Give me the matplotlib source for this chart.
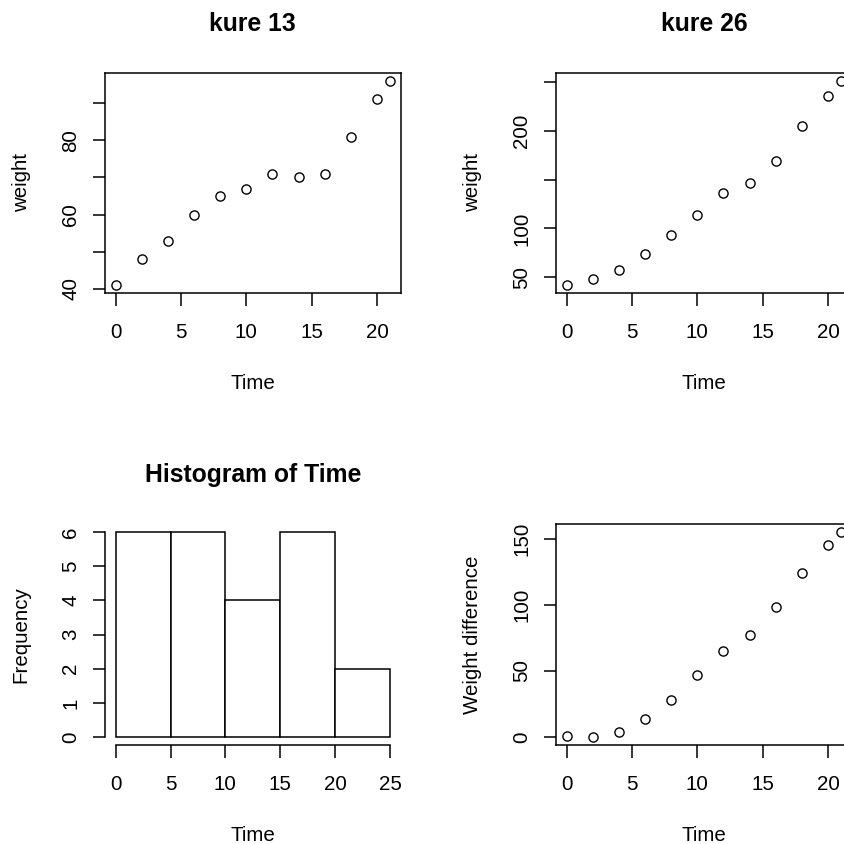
import matplotlib
matplotlib.use("Agg")
import matplotlib.pyplot as plt

plt.rcParams['font.family'] = ['Liberation Sans', 'DejaVu Sans']

time = [0, 2, 4, 6, 8, 10, 12, 14, 16, 18, 20, 21]
kure13 = [41, 48, 53, 60, 65, 67, 71, 70, 71, 81, 91, 96]
kure26 = [42, 48, 57, 74, 93, 114, 136, 147, 169, 205, 236, 251]
weight_diff = [1, 0, 4, 14, 28, 47, 65, 77, 98, 124, 145, 155]

hist_breaks = [0, 5, 10, 15, 20, 25]
hist_counts = [6, 6, 4, 6, 2]

x_ticks = [0, 5, 10, 15, 20]
k13_yticks = [40, 50, 60, 70, 80, 90]
k13_ylabels = ['40', '', '60', '', '80', '']
k26_yticks = [50, 100, 150, 200, 250]
k26_ylabels = ['50', '100', '', '200', '']
diff_yticks = [0, 50, 100, 150]
hist_xticks = [0, 5, 10, 15, 20, 25]
hist_yticks = [0, 1, 2, 3, 4, 5, 6]

W, H = 845, 844
fig = plt.figure(figsize=(W / 100, H / 100), dpi=100)

FS = 14.8
TFS = 17.8
LW = 1.1
XLPAD = 23
YLPAD = 22

def rect(x0, y0, x1, y1):
    return [x0 / W, 1 - y1 / H, (x1 - x0) / W, (y1 - y0) / H]

def rng(lo, hi):
    d = (hi - lo) * 0.04
    return lo - d, hi + d

def style(ax):
    for s in ax.spines.values():
        s.set_linewidth(LW)
    ax.tick_params(axis='both', direction='out', length=9, width=LW,
                   labelsize=FS, color='black')
    ax.tick_params(axis='x', pad=12.5)
    ax.tick_params(axis='y', pad=8.5)
    for lab in ax.get_yticklabels():
        lab.set_rotation(90)
        lab.set_va('center')

def scatter_panel(ax, x, y, yticks, ylabels, ylabel, title):
    ax.plot(x, y, linestyle='none', marker='o', markersize=6.6,
            markerfacecolor='none', markeredgecolor='black', markeredgewidth=1.0)
    ax.set_xlim(*rng(min(x), max(x)))
    ax.set_ylim(*rng(min(y), max(y)))
    ax.set_xticks(x_ticks)
    ax.set_xticklabels([str(t) for t in x_ticks])
    ax.set_yticks(yticks)
    ax.set_yticklabels(ylabels)
    style(ax)
    ax.set_xlabel('Time', fontsize=FS, labelpad=XLPAD)
    ax.set_ylabel(ylabel, fontsize=FS, labelpad=YLPAD)
    if title:
        ax.set_title(title, fontsize=TFS, fontweight='bold', pad=30)

L0, L1 = 104.7, 401.0
R0, R1 = 555.7, 852.0
T0, T1 = 72.7, 293.3
B0, B1 = 523.8, 745.3

ax1 = fig.add_axes(rect(L0, T0, L1, T1))
scatter_panel(ax1, time, kure13, k13_yticks, k13_ylabels, 'weight', 'kure 13')

ax2 = fig.add_axes(rect(R0, T0, R1, T1))
scatter_panel(ax2, time, kure26, k26_yticks, k26_ylabels, 'weight', 'kure 26')

ax3 = fig.add_axes(rect(L0, B0, L1, B1))
lefts = hist_breaks[:-1]
widths = [hist_breaks[i + 1] - hist_breaks[i] for i in range(len(lefts))]
ax3.bar(lefts, hist_counts, width=widths, align='edge', facecolor='white',
        edgecolor='black', linewidth=LW)
ax3.set_xlim(*rng(hist_breaks[0], hist_breaks[-1]))
ax3.set_ylim(*rng(0, max(hist_counts)))
ax3.spines['top'].set_visible(False)
ax3.spines['right'].set_visible(False)
ax3.spines['left'].set_bounds(0, max(hist_counts))
ax3.spines['bottom'].set_bounds(hist_breaks[0], hist_breaks[-1])
ax3.set_xticks(hist_xticks)
ax3.set_xticklabels([str(t) for t in hist_xticks])
ax3.set_yticks(hist_yticks)
ax3.set_yticklabels([str(t) for t in hist_yticks])
style(ax3)
ax3.set_xlabel('Time', fontsize=FS, labelpad=XLPAD)
ax3.set_ylabel('Frequency', fontsize=FS, labelpad=YLPAD)
ax3.set_title('Histogram of Time', fontsize=TFS, fontweight='bold', pad=30)

ax4 = fig.add_axes(rect(R0, B0, R1, B1))
scatter_panel(ax4, time, weight_diff, diff_yticks,
              [str(t) for t in diff_yticks], 'Weight difference', None)

fig.savefig('out.png', dpi=100)
